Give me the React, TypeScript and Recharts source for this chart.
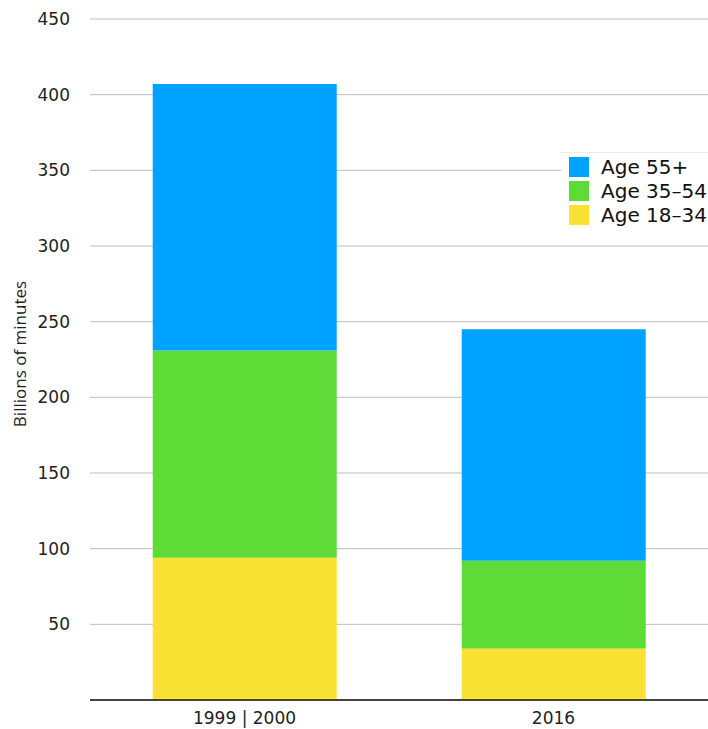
import {
  BarChart,
  Bar,
  XAxis,
  YAxis,
  CartesianGrid,
  Label,
} from "recharts";

// ── Data ──────────────────────────────────────────────────────────────────────

const PERIODS = ["1999 | 2000", "2016"];
const AGE_18_34 = [94, 34];
const AGE_35_54 = [137, 58];
const AGE_55_PLUS = [176, 153];
const Y_TICKS = [50, 100, 150, 200, 250, 300, 350, 400, 450];

const SERIES = [
  { key: "age55", name: "Age 55+", color: "#00a2ff" },
  { key: "age35", name: "Age 35–54", color: "#5fdb37" },
  { key: "age18", name: "Age 18–34", color: "#f9e231" },
];

const rows = PERIODS.map((period, i) => ({
  period,
  age18: AGE_18_34[i],
  age35: AGE_35_54[i],
  age55: AGE_55_PLUS[i],
}));

const FONT = "Verdana, 'DejaVu Sans', sans-serif";

// ── Axis title ────────────────────────────────────────────────────────────────

function YTitle() {
  return (
    <text
      x={19}
      y={354}
      transform="rotate(-90 19 354)"
      textAnchor="middle"
      dominantBaseline="central"
      fill="#222"
      fontSize={17}
      fontFamily="'Open Sans', sans-serif"
    >
      Billions of minutes
    </text>
  );
}

// ── Legend (overlaid on the plot, white box) ──────────────────────────────────

function AgeLegend() {
  return (
    <div
      style={{
        position: "absolute",
        left: 561,
        top: 152,
        width: 147,
        height: 78,
        background: "#fff",
        borderTop: "1px solid #ececec",
        boxSizing: "border-box",
        padding: "4px 0 0 8px",
        fontFamily: FONT,
        fontSize: 20,
        color: "#111",
      }}
    >
      {SERIES.map((s) => (
        <div
          key={s.key}
          style={{ display: "flex", alignItems: "center", height: 20, marginBottom: 4, whiteSpace: "nowrap" }}
        >
          <div style={{ width: 20, height: 20, background: s.color, marginRight: 12, flexShrink: 0 }} />
          <span>{s.name}</span>
        </div>
      ))}
    </div>
  );
}

// ── Chart ─────────────────────────────────────────────────────────────────────

export default function App() {
  return (
    <div style={{ position: "absolute", left: 0, top: 0, width: 708, height: 729, background: "#fff", overflow: "hidden" }}>
      <BarChart
        width={708}
        height={729}
        data={rows}
        margin={{ top: 19, right: 0, bottom: 0, left: 0 }}
        barCategoryGap="20.3%"
      >
        <CartesianGrid vertical={false} stroke="#bdbdbd" strokeWidth={1} />
        <XAxis
          dataKey="period"
          tickLine={false}
          axisLine={{ stroke: "#111", strokeWidth: 1.5 }}
          tick={{ fill: "#222", fontSize: 17, fontFamily: FONT }}
          tickMargin={6}
          height={29}
        />
        <YAxis
          width={90}
          domain={[0, 450]}
          ticks={Y_TICKS}
          axisLine={false}
          tickLine={false}
          tickSize={0}
          tickMargin={20}
          tick={{ fill: "#222", fontSize: 17, fontFamily: FONT }}
        >
          <Label content={() => <YTitle />} />
        </YAxis>
        <Bar dataKey="age18" name="Age 18–34" stackId="a" fill="#f9e231" isAnimationActive={false} />
        <Bar dataKey="age35" name="Age 35–54" stackId="a" fill="#5fdb37" isAnimationActive={false} />
        <Bar dataKey="age55" name="Age 55+" stackId="a" fill="#00a2ff" isAnimationActive={false} />
      </BarChart>
      <AgeLegend />
    </div>
  );
}
